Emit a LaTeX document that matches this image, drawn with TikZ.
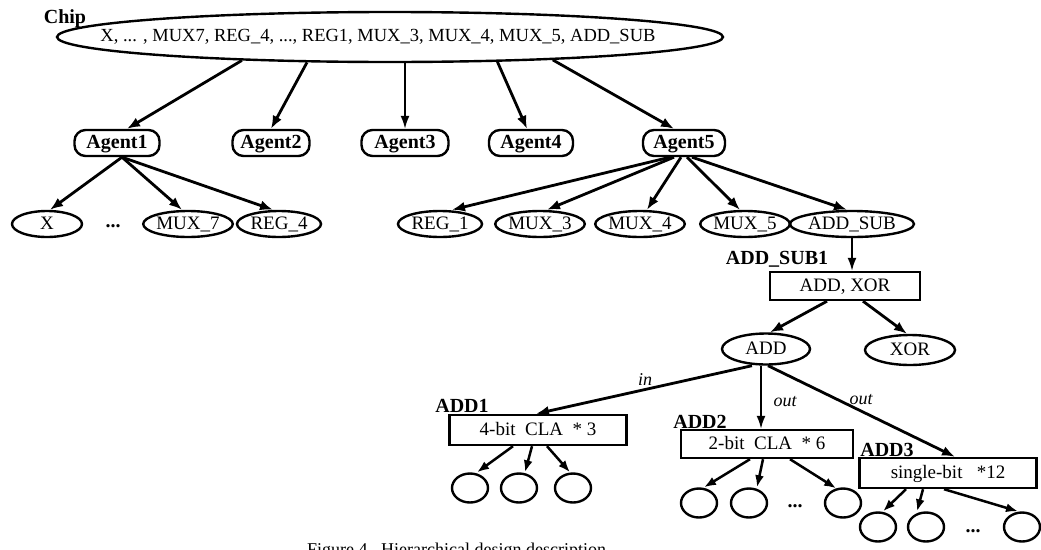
\documentclass[tikz,border=0pt]{standalone}
\usepackage{fontspec}
\setmainfont{Liberation Serif}
\usetikzlibrary{shapes.geometric,arrows.meta}
\begin{document}
\begin{tikzpicture}[x=1pt,y=-1pt,
  arr/.style={line width=2.8pt,-{Latex[length=13pt,width=10pt]}},
  arrthin/.style={line width=1.8pt,-{Latex[length=13pt,width=9pt]}},
  arrsmall/.style={line width=2.5pt,-{Latex[length=12pt,width=9pt]}},
  leaf/.style={ellipse,draw,line width=2.4pt,inner sep=0pt,minimum width=84pt,minimum height=26pt,text height=12pt,text depth=2pt,font=\fontsize{19}{19}\selectfont},
  agent/.style={rectangle,rounded corners=11pt,draw,line width=2.4pt,inner sep=0pt,minimum width=82pt,minimum height=26pt,text height=13pt,text depth=3pt,font=\fontsize{20}{20}\selectfont\bfseries},
  boxnode/.style={rectangle,draw,line width=2.4pt,inner sep=0pt,minimum height=28pt,text height=12pt,text depth=2pt,font=\fontsize{19}{19}\selectfont},
  circ/.style={ellipse,draw,line width=2.4pt,minimum width=36pt,minimum height=29pt,inner sep=0pt},
  blabel/.style={font=\fontsize{20}{20}\selectfont\bfseries,inner sep=0pt},
  elabel/.style={font=\fontsize{18}{18}\selectfont\itshape,inner sep=0pt},
  dotsnode/.style={font=\fontsize{20}{20}\selectfont\bfseries,inner sep=0pt}]
\clip (0,0) rectangle (1041,549);
\fill[white] (0,0) rectangle (1041,549);

% top level
\node[blabel] (chiplbl) at (65,19) {Chip};
\node[ellipse,draw,line width=2.4pt,minimum width=666pt,minimum height=50pt,inner sep=0pt] (chip) at (390,37) {};
\node[inner sep=0pt,font=\fontsize{18.5}{18.5}\selectfont] (chiptxt) at (378,37)
      {X, ... , MUX7, REG\_4, ..., REG1, MUX\_3, MUX\_4, MUX\_5, ADD\_SUB};

% agents
\node[agent,minimum width=85pt] (a1) at (117,143) {Agent1};
\node[agent,minimum width=77pt] (a2) at (271,143) {Agent2};
\node[agent,minimum width=87pt] (a3) at (405,143) {Agent3};
\node[agent,minimum width=84pt] (a4) at (531,143) {Agent4};
\node[agent,minimum width=82pt] (a5) at (684,143) {Agent5};

% leaves
\node[leaf,minimum width=70pt] (x) at (47,224) {X};
\node[dotsnode] (dots1) at (113,226) {...};
\node[leaf] (mux7) at (188,224) {MUX\_7};
\node[leaf] (reg4) at (279,224) {REG\_4};
\node[leaf] (reg1) at (440,224) {REG\_1};
\node[leaf] (mux3) at (540,224) {MUX\_3};
\node[leaf] (mux4) at (640,224) {MUX\_4};
\node[leaf] (mux5) at (745,224) {MUX\_5};
\node[leaf,minimum width=119pt] (addsub) at (852,224) {ADD\_SUB};

% ADD_SUB1
\node[blabel] (addsublbl) at (777,259) {ADD\_SUB1};
\node[boxnode,minimum width=150pt] (addxor) at (845,286) {ADD, XOR};
\node[leaf,minimum width=88pt,minimum height=31pt] (add) at (766,349) {ADD};
\node[leaf,minimum width=90pt,minimum height=30pt] (xor) at (910,350) {XOR};

% ADD1..3
\node[blabel] (add1lbl) at (462,406) {ADD1};
\node[boxnode,minimum width=177pt,minimum height=30pt] (add1) at (538,430) {4-bit\ \ CLA\ \ * 3};
\node[blabel] (add2lbl) at (700,422) {ADD2};
\node[boxnode,minimum width=172pt,minimum height=28pt] (add2) at (767,444) {2-bit\ \ CLA\ \ * 6};
\node[blabel] (add3lbl) at (887,450) {ADD3};
\node[boxnode,minimum width=177pt,minimum height=30pt] (add3) at (948,473) {single-bit\ \ \ *12};

\node[elabel] (lin) at (645,380) {in};
\node[elabel] (lout1) at (785,402) {out};
\node[elabel] (lout2) at (861,400) {out};

% bottom circles
\node[circ] (c11) at (470,488) {};
\node[circ] (c12) at (519,488) {};
\node[circ] (c13) at (573,488) {};
\node[circ] (c21) at (699,503) {};
\node[circ] (c22) at (749,503) {};
\node[dotsnode] (dots2) at (795,506) {...};
\node[circ] (c23) at (843,503) {};
\node[circ] (c31) at (878,527) {};
\node[circ] (c32) at (926,527) {};
\node[dotsnode] (dots3) at (973,531) {...};
\node[circ] (c33) at (1022,527) {};

% caption (cut off at the bottom edge, as in the reference)
\node[anchor=base west,font=\fontsize{18}{18}\selectfont,inner sep=0pt] (cap) at (307,555)
  {Figure 4.\ \ Hierarchical design description};

% connectors: chip -> agents
\draw[arr] (chip.189) -- ([xshift=10pt]a1.north);
\draw[arr] (chip.197) -- (a2.north);
\draw[arrthin] (a3.north |- chip.south) -- (a3.north);
\draw[arr] (chip.347) -- ([xshift=-4pt]a4.north);
\draw[arr] (chip.352) -- ([xshift=-10pt]a5.north);

% agent1 -> leaves
\draw[arr] ([xshift=5pt]a1.south) -- ([xshift=3pt]x.north);
\draw[arr] ([xshift=5pt]a1.south) -- ([xshift=-6pt]mux7.north);
\draw[arr] ([xshift=5pt]a1.south) -- ([xshift=-6pt]reg4.north);

% agent5 -> leaves
\draw[arr] ([xshift=-14pt]a5.south) -- ([xshift=12pt]reg1.north);
\draw[arr] ([xshift=-10pt]a5.south) -- ([xshift=7pt]mux3.north);
\draw[arr] ([xshift=-3pt]a5.south) -- ([xshift=7pt]mux4.north);
\draw[arr] ([xshift=3pt]a5.south) -- ([xshift=-5pt]mux5.north);
\draw[arr] ([xshift=8pt]a5.south) -- ([xshift=-5pt]addsub.north);

% ADD_SUB -> ADD_SUB1
\draw[arrthin] (addsub.south) -- (addsub.south |- addxor.north);
\draw[arr] ([xshift=-18pt]addxor.south) -- ([xshift=4pt]add.north);
\draw[arr] ([xshift=18pt]addxor.south) -- ([xshift=-3pt]xor.north);

% ADD -> ADD1..3
\draw[arr] ([xshift=-14pt]add.south) -- ([xshift=-2pt]add1.north);
\draw[arrthin] ([xshift=-5pt]add.south) -- ([xshift=-6pt]add2.north);
\draw[arr] ([xshift=2pt]add.south) -- ([xshift=7pt]add3.north);

% ADD1 children
\draw[arrsmall] ([xshift=-25pt]add1.south) -- ([xshift=7pt]c11.north);
\draw[arrsmall] ([xshift=-6pt]add1.south) -- ([xshift=6pt]c12.north);
\draw[arrsmall] ([xshift=9pt]add1.south) -- ([xshift=-3pt]c13.north);

% ADD2 children
\draw[arrsmall] ([xshift=-17pt]add2.south) -- ([xshift=5pt]c21.north);
\draw[arrsmall] ([xshift=-4pt]add2.south) -- ([xshift=8pt]c22.north);
\draw[arrsmall] ([xshift=23pt]add2.south) -- (c23.115);

% ADD3 children
\draw[arrsmall] ([xshift=-42pt]add3.south) -- ([xshift=5pt]c31.north);
\draw[arrsmall] ([xshift=-25pt]add3.south) -- ([xshift=-9pt]c32.north);
\draw[arrsmall] ([xshift=-4pt]add3.south) -- ([xshift=-4pt]c33.north);
\end{tikzpicture}
\end{document}
